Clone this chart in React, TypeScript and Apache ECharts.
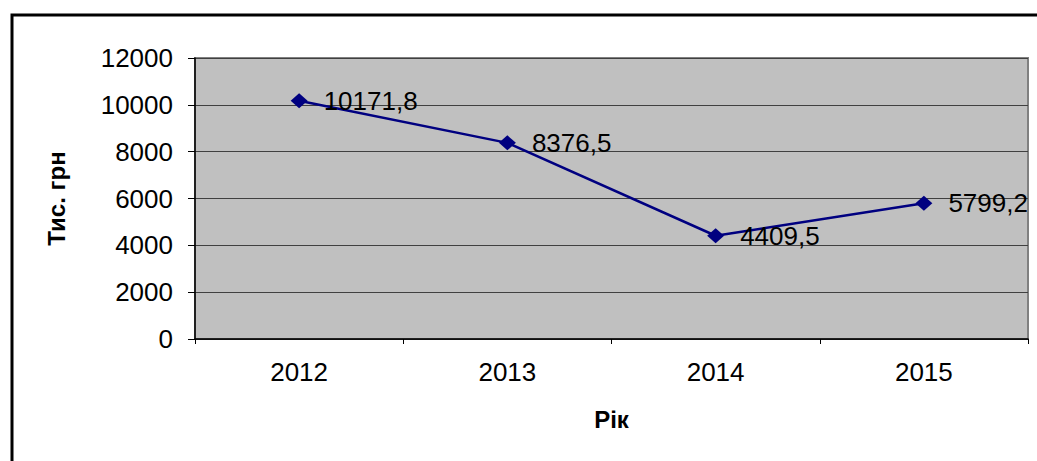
import React, { useEffect, useRef } from "react";
import * as echarts from "echarts";

const categories = ["2012", "2013", "2014", "2015"];
const values = [10171.8, 8376.5, 4409.5, 5799.2];
const yTitle = "Тис. грн";
const xTitle = "Рік";

const FONT = "'Liberation Sans', Arial, sans-serif";

export default function App() {
  const ref = useRef<HTMLDivElement>(null);
  useEffect(() => {
    document.body.style.margin = "0";
    const chart = echarts.init(ref.current!, null, { renderer: "svg" });
    chart.setOption({
      animation: false,
      backgroundColor: "#ffffff",
      textStyle: { fontFamily: FONT },
      graphic: [
        {
          type: "rect",
          shape: { x: 12, y: 15, width: 1200, height: 600 },
          style: { fill: "none", stroke: "#000", lineWidth: 3 },
          z: 100,
        },
      ],
      grid: {
        left: 195,
        top: 58,
        width: 833,
        height: 281,
        show: true,
        backgroundColor: "#c0c0c0",
        borderColor: "#808080",
        borderWidth: 2,
      },
      xAxis: {
        type: "category",
        data: categories,
        boundaryGap: true,
        name: xTitle,
        nameLocation: "middle",
        nameGap: 68,
        nameTextStyle: { fontFamily: FONT, fontSize: 24, fontWeight: "bold", color: "#000" },
        axisLine: { show: true, lineStyle: { color: "#000", width: 1.5 } },
        axisTick: { show: true, length: 5, alignWithLabel: false, lineStyle: { color: "#000" } },
        axisLabel: { fontFamily: FONT, fontSize: 26, color: "#000", margin: 20 },
        splitLine: { show: false },
      },
      yAxis: {
        type: "value",
        min: 0,
        max: 12000,
        interval: 2000,
        name: yTitle,
        nameLocation: "middle",
        nameRotate: 90,
        nameGap: 127,
        nameTextStyle: { fontFamily: FONT, fontSize: 24, fontWeight: "bold", color: "#000" },
        axisLine: { show: true, lineStyle: { color: "#000", width: 1.5 } },
        axisTick: { show: true, length: 7, lineStyle: { color: "#000" } },
        axisLabel: {
          fontFamily: FONT,
          fontSize: 26,
          color: "#000",
          margin: 22,
          formatter: (v: number) => String(v),
        },
        splitLine: { show: true, lineStyle: { color: "#404040", width: 1 } },
      },
      series: [
        {
          type: "line",
          data: values,
          symbol: "diamond",
          symbolSize: [17, 15],
          lineStyle: { color: "#000080", width: 2.5 },
          itemStyle: { color: "#000080" },
          label: {
            show: true,
            position: "right",
            distance: 16,
            fontFamily: FONT,
            fontSize: 26,
            color: "#000",
            formatter: (p: any) => String(p.value).replace(".", ","),
          },
        },
      ],
    });
    return () => chart.dispose();
  }, []);
  return <div ref={ref} style={{ width: 1037, height: 461 }} />;
}
